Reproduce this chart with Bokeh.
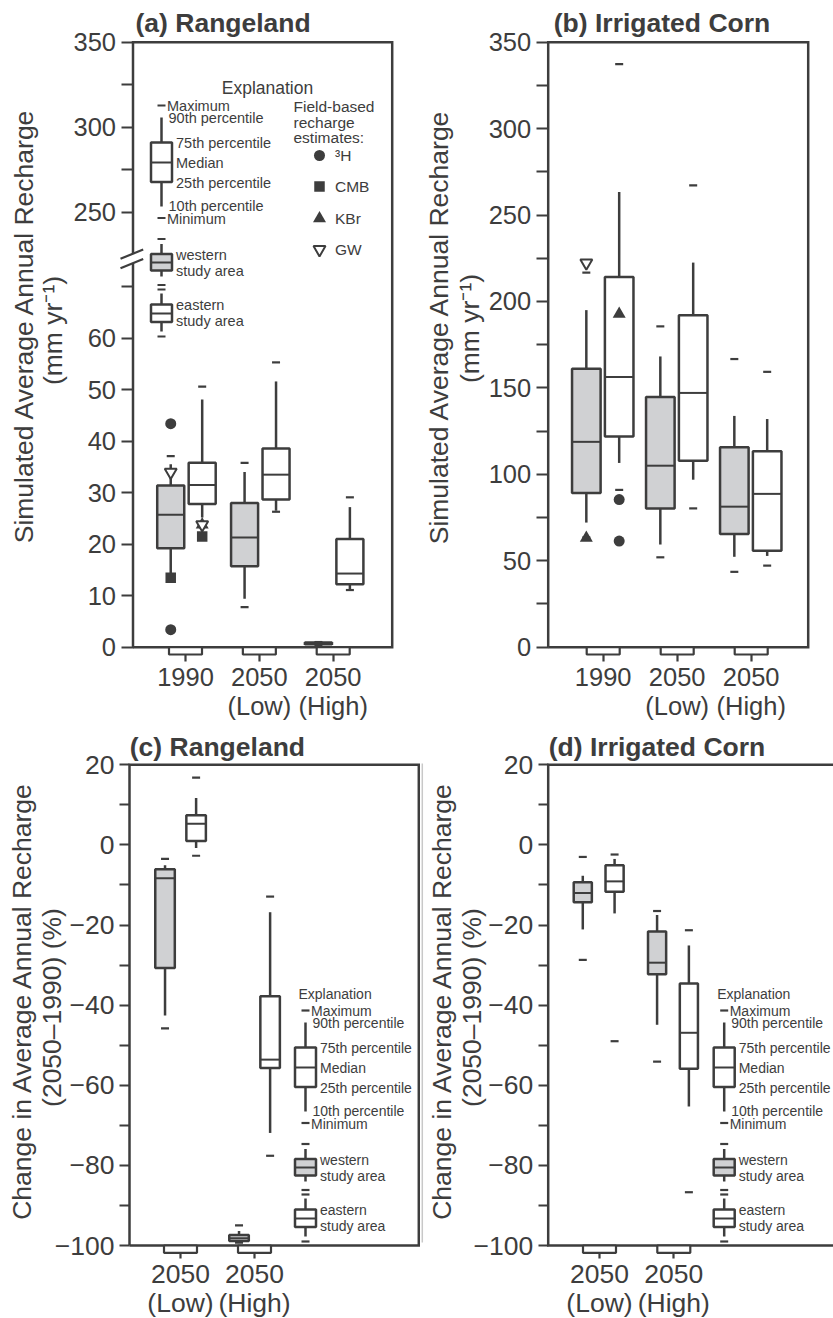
import math
from bokeh.plotting import figure
from bokeh.models import FixedTicker, Label, Arrow, PolyAnnotation, Range1d, LinearAxis
from bokeh.layouts import column, row
from bokeh.embed import file_html
from bokeh.resources import INLINE

FONT = "Liberation Sans"
INK = "#3d3d3d"
FILL_W = "#d0d1d3"

# ---------------- data ----------------
top_categories = ["1990", "2050\n(Low)", "2050\n(High)"]
bottom_categories = ["2050\n(Low)", "2050\n(High)"]

# box statistics per category: [minimum, 10th, 25th, median, 75th, 90th, maximum]
a_western = [
    [13.2, 14.0, 19.2, 25.7, 31.4, 35.5, 37.1],
    [7.8, 9.4, 15.7, 21.3, 28.0, 34.0, 35.8],
    [0.45, 0.5, 0.55, 0.7, 0.9, 0.95, 1.0],
]
a_eastern = [
    [21.5, 25.2, 27.8, 31.5, 35.8, 48.1, 50.6],
    [26.3, 26.5, 28.7, 33.5, 38.6, 51.6, 55.3],
    [11.1, 11.3, 12.2, 14.3, 21.0, 27.2, 29.1],
]
b_western = [
    [63.5, 72.1, 89.2, 118.8, 161.1, 195.0, 216.7],
    [52.0, 59.4, 80.3, 105.0, 144.8, 168.2, 185.6],
    [43.6, 52.3, 65.5, 81.3, 115.7, 133.8, 166.7],
]
b_eastern = [
    [91.0, 106.6, 121.9, 156.3, 214.1, 263.3, 337.3],
    [80.3, 96.9, 107.8, 147.1, 192.0, 222.5, 267.2],
    [47.2, 52.8, 55.8, 88.7, 113.4, 132.0, 159.3],
]
c_western = [
    [-45.8, -42.6, -30.7, -8.3, -6.1, -5.1, -3.5],
    [-99.3, -99.1, -98.9, -98.2, -97.4, -96.4, -95.0],
]
c_eastern = [
    [-2.7, -0.8, 1.0, 5.3, 7.4, 11.7, 16.8],
    [-77.6, -71.9, -55.7, -53.6, -37.8, -16.8, -12.9],
]
d_western = [
    [-28.7, -21.1, -14.3, -12.0, -9.3, -7.7, -3.0],
    [-54.1, -44.9, -32.3, -29.4, -21.6, -17.5, -16.5],
]
d_eastern = [
    [-49.0, -17.1, -11.7, -9.1, -5.1, -3.5, -2.4],
    [-86.7, -65.3, -55.9, -46.9, -34.6, -25.1, -21.3],
]

# field-based recharge estimates: (category, study area, value)
a_tritium = [("1990", "western", 43.4), ("1990", "western", 3.4)]
a_cmb = [("1990", "western", 13.5), ("1990", "eastern", 21.5)]
a_kbr = [("1990", "eastern", 23.8)]
a_gw = [("1990", "western", 34.0), ("1990", "eastern", 23.8)]
b_tritium = [("1990", "eastern", 85.4), ("1990", "eastern", 61.4)]
b_kbr = [("1990", "western", 63.2), ("1990", "eastern", 192.7)]
b_gw = [("1990", "western", 222.3)]

# axis ticks
a_ticks_lower = [0, 10, 20, 30, 40, 50, 60, 70]
a_labels_lower = ["0", "10", "20", "30", "40", "50", "60", ""]
a_ticks_upper = [250, 275, 300, 325, 350]
a_labels_upper = ["250", "", "300", "", "350"]
b_ticks = [0, 25, 50, 75, 100, 125, 150, 175, 200, 225, 250, 275, 300, 325, 350]
b_labels = ["0", "", "50", "", "100", "", "150", "", "200", "", "250", "", "300", "", "350"]
cd_ticks = [-100, -90, -80, -70, -60, -50, -40, -30, -20, -10, 0, 10, 20]
cd_labels = ["\u2212100", "", "\u221280", "", "\u221260", "", "\u221240", "", "\u221220", "", "0", "", "20"]


# panel (a) uses a broken axis: upper segment (250-350) compressed above the lower one
def a_pos(v):
    if v <= 100:
        return v
    return round(84.47 + (v - 250) * 0.330, 3)


class Panel:
    """Geometry of one figure; the frame spans the whole canvas, the drawn box is inside."""

    def __init__(self, x0, y0, W, H, tick1_px, sx, yref_px, yref_val, sy, frame_px):
        self.x0, self.y0, self.W, self.H = x0, y0, W, H
        self.t1, self.sx = tick1_px, sx
        self.ypx, self.yv, self.sy = yref_px, yref_val, sy
        l, r, t, b = frame_px
        self.fl, self.fr, self.ft, self.fb = self.X(l), self.X(r), self.Y(t), self.Y(b)

    def X(self, px):
        return 1 + (px - self.t1) / self.sx

    def Y(self, py):
        return self.yv + (self.ypx - py) / self.sy


A = Panel(0, 0, 420, 730, 185.0, 73.85, 646.7, 0.0, 605.0 / a_pos(350), (132.5, 391.7, 41.7, 646.7))
B = Panel(420, 0, 413, 730, 602.7, 74.0, 646.7, 0.0, 605.0 / 350.0, (547.7, 807.7, 41.7, 646.7))
C = Panel(0, 730, 420, 588, 180.0, 74.0, 1245.0, -100.0, 480.7 / 120.0, (129.0, 418.3, 764.3, 1245.0))
D = Panel(420, 730, 413, 588, 599.0, 74.3, 1245.0, -100.0, 480.7 / 120.0, (547.7, 840.0, 764.3, 1245.0))


def make_fig(g, yticks, ylabels, xlabels, fs, xtick_out, ytick_out, xstandoff, xlh, right=True):
    p = figure(width=g.W, height=g.H,
               x_range=Range1d(g.X(g.x0), g.X(g.x0 + g.W)),
               y_range=Range1d(g.Y(g.y0 + g.H), g.Y(g.y0)),
               output_backend="svg", toolbar_location=None, title=None,
               x_axis_location=None, y_axis_location=None,
               min_border=0, min_border_left=0, min_border_right=0,
               min_border_top=0, min_border_bottom=0)
    p.outline_line_color = None
    p.xgrid.visible = False
    p.ygrid.visible = False
    p.background_fill_color = "white"
    p.border_fill_color = "white"
    # frame box
    if right:
        p.line(x=[g.fl, g.fl, g.fr, g.fr, g.fl], y=[g.fb, g.ft, g.ft, g.fb, g.fb],
               line_color=INK, line_width=2.5, line_join="miter")
    else:
        p.line(x=[g.fr, g.fl, g.fl, g.fr], y=[g.ft, g.ft, g.fb, g.fb],
               line_color=INK, line_width=2.5, line_join="miter")
    xt = list(range(1, len(xlabels) + 1))
    yax = LinearAxis(fixed_location=g.fl, ticker=FixedTicker(ticks=yticks),
                     major_label_overrides={t: l for t, l in zip(yticks, ylabels)})
    xax = LinearAxis(fixed_location=g.fb, ticker=FixedTicker(ticks=xt),
                     major_label_overrides={t: l for t, l in zip(xt, xlabels)})
    for ax in (xax, yax):
        ax.axis_line_color = None
        ax.major_tick_line_color = INK
        ax.major_tick_line_width = 2.2
        ax.major_tick_in = 0
        ax.minor_tick_line_color = None
        ax.major_label_text_font = FONT
        ax.major_label_text_font_size = fs
        ax.major_label_text_color = INK
    yax.major_tick_out = ytick_out
    yax.major_label_standoff = 5
    xax.major_tick_out = xtick_out
    xax.major_label_standoff = xstandoff
    xax.major_label_text_line_height = xlh
    p.add_layout(yax, "left")
    p.add_layout(xax, "below")
    # open boxes hanging under the x axis at each category tick
    hw = 16.5 / g.sx
    h = 7.3 / g.sy
    for i in xt:
        p.add_layout(PolyAnnotation(xs=[i - hw, i + hw, i + hw, i - hw],
                                    ys=[g.fb, g.fb, g.fb - h, g.fb - h],
                                    fill_color="white", fill_alpha=1.0,
                                    line_color=INK, line_alpha=1.0, line_width=2.2))
    return p


def draw_boxes(p, stats, offset, half, fill, pos=lambda v: v):
    xc = [i + 1 + offset for i in range(len(stats))]
    mins = [pos(s[0]) for s in stats]
    p10 = [pos(s[1]) for s in stats]
    p25 = [pos(s[2]) for s in stats]
    med = [pos(s[3]) for s in stats]
    p75 = [pos(s[4]) for s in stats]
    p90 = [pos(s[5]) for s in stats]
    maxs = [pos(s[6]) for s in stats]
    p.segment(x0=xc, y0=p75, x1=xc, y1=p90, line_color=INK, line_width=2.5)
    p.segment(x0=xc, y0=p25, x1=xc, y1=p10, line_color=INK, line_width=2.5)
    p.quad(left=[x - half for x in xc], right=[x + half for x in xc], bottom=p25, top=p75,
           fill_color=fill, line_color=INK, line_width=2.5)
    p.segment(x0=[x - half for x in xc], y0=med, x1=[x + half for x in xc], y1=med,
              line_color=INK, line_width=2.0)
    p.scatter(x=xc + xc, y=mins + maxs, marker="dash", size=8, line_color=INK, line_width=2.2)


def draw_field(p, recs, cats, offsets, marker, size, fill, lw, pos=lambda v: v):
    xs = [cats.index(c) + 1 + offsets[a] for c, a, v in recs]
    ys = [pos(v) for c, a, v in recs]
    p.scatter(x=xs, y=ys, marker=marker, size=size, fill_color=fill,
              line_color=INK, line_width=lw)


def label(p, x, y, text, size, align="left", baseline="middle", bold=False, angle=0.0):
    p.add_layout(Label(x=x, y=y, text=text, text_font=FONT, text_font_size=size,
                       text_color=INK, text_align=align, text_baseline=baseline,
                       text_font_style="bold" if bold else "normal", angle=angle))


def draw_explanation(p, g, cx, y0, title_px, title_align, title_size, text_size):
    X, Y = g.X, g.Y
    hw = 10.5
    p.segment(x0=[X(cx), X(cx)], y0=[Y(y0 + 37), Y(y0 + 76.5)], x1=[X(cx), X(cx)],
              y1=[Y(y0 + 12), Y(y0 + 101)], line_color=INK, line_width=2.5)
    p.quad(left=[X(cx - hw)], right=[X(cx + hw)], top=[Y(y0 + 37)], bottom=[Y(y0 + 76.5)],
           fill_color="white", line_color=INK, line_width=2.5)
    p.segment(x0=[X(cx - hw)], y0=[Y(y0 + 57)], x1=[X(cx + hw)], y1=[Y(y0 + 57)],
              line_color=INK, line_width=2.0)
    p.scatter(x=[X(cx), X(cx)], y=[Y(y0), Y(y0 + 112.5)], marker="dash", size=8,
              line_color=INK, line_width=2.2)
    minis = [(133.5, 138.5, 148.5, 157.0, 165.0, 171.0, 179.5, FILL_W),
             (184.0, 188.0, 199.0, 208.0, 216.5, 226.0, 231.0, "white")]
    for mx, wt, btp, md, bbt, wb, mn, fc in minis:
        p.segment(x0=[X(cx), X(cx)], y0=[Y(y0 + btp), Y(y0 + bbt)], x1=[X(cx), X(cx)],
                  y1=[Y(y0 + wt), Y(y0 + wb)], line_color=INK, line_width=2.5)
        p.quad(left=[X(cx - hw)], right=[X(cx + hw)], top=[Y(y0 + btp)], bottom=[Y(y0 + bbt)],
               fill_color=fc, line_color=INK, line_width=2.5)
        p.segment(x0=[X(cx - hw)], y0=[Y(y0 + md)], x1=[X(cx + hw)], y1=[Y(y0 + md)],
                  line_color=INK, line_width=2.0)
        p.scatter(x=[X(cx), X(cx)], y=[Y(y0 + mx), Y(y0 + mn)], marker="dash", size=8,
                  line_color=INK, line_width=2.2)
    texts = [("Maximum", 5.5, 0), ("90th percentile", 7, 12.5), ("75th percentile", 14.5, 37),
             ("Median", 14.5, 57), ("25th percentile", 14.5, 77), ("10th percentile", 7, 100.5),
             ("Minimum", 5.5, 113), ("western", 14.5, 149), ("study area", 14.5, 165),
             ("eastern", 14.5, 199), ("study area", 14.5, 215)]
    for t, dx, dy in texts:
        label(p, X(cx + dx), Y(y0 + dy), t, text_size)
    label(p, X(title_px[0]), Y(title_px[1]), "Explanation", title_size, align=title_align)


# ================= panel (a) =================
a_yt = a_ticks_lower + [a_pos(v) for v in a_ticks_upper]
pa = make_fig(A, a_yt, a_labels_lower + a_labels_upper, top_categories, "25.5px", 14, 12, 2, 1.04)
a_off = {"western": -0.200, "eastern": 0.226}
draw_boxes(pa, a_western, a_off["western"], 0.183, FILL_W, a_pos)
draw_boxes(pa, a_eastern, a_off["eastern"], 0.183, "white", a_pos)
draw_field(pa, a_tritium, top_categories[:1], a_off, "circle", 11, INK, 0)
draw_field(pa, a_cmb, top_categories[:1], a_off, "square", 10.5, INK, 0)
draw_field(pa, a_kbr, top_categories[:1], a_off, "triangle", 13, INK, 0)
draw_field(pa, a_gw, top_categories[:1], a_off, "inverted_triangle", 12, "white", 2)
# axis break
pa.add_layout(PolyAnnotation(xs=[A.X(119), A.X(144), A.X(144), A.X(119)],
                             ys=[A.Y(258.3), A.Y(248), A.Y(257.6), A.Y(267.9)],
                             fill_color="white", fill_alpha=1.0, line_color=None))
for yy in (0.0, 9.4):
    pa.add_layout(Arrow(end=None, x_start=A.X(120), y_start=A.Y(258.3 + yy),
                        x_end=A.X(142.7), y_end=A.Y(249 + yy), line_color=INK, line_width=2.2))
draw_explanation(pa, A, 161, 105, (267, 87), "center", "17.5px", "14.5px")
label(pa, A.X(293), A.Y(106), "Field-based", "15.5px")
label(pa, A.X(293), A.Y(121.5), "recharge", "15.5px")
label(pa, A.X(293), A.Y(137), "estimates:", "15.5px")
pa.scatter(x=[A.X(319)], y=[A.Y(155)], marker="circle", size=11, fill_color=INK, line_color=INK, line_width=0)
pa.scatter(x=[A.X(319)], y=[A.Y(186)], marker="square", size=10.5, fill_color=INK, line_color=INK, line_width=0)
pa.scatter(x=[A.X(319)], y=[A.Y(218)], marker="triangle", size=13, fill_color=INK, line_color=INK, line_width=0)
pa.scatter(x=[A.X(319)], y=[A.Y(249)], marker="inverted_triangle", size=12, fill_color="white", line_color=INK, line_width=2)
for t, yy in (("\u00b3H", 155), ("CMB", 186), ("KBr", 218), ("GW", 249)):
    label(pa, A.X(334.5), A.Y(yy), t, "15.5px")
label(pa, A.X(135), A.Y(22.5), "(a) Rangeland", "26.5px", bold=True)
label(pa, A.X(23.3), A.Y(325), "Simulated Average Annual Recharge", "26.5px", align="center", angle=math.pi / 2)
label(pa, A.X(52.5), A.Y(330), "(mm yr\u207b\u00b9)", "26.5px", align="center", angle=math.pi / 2)

# ================= panel (b) =================
pb = make_fig(B, b_ticks, b_labels, top_categories, "25.5px", 14, 12, 2, 1.04)
b_off = {"western": -0.228, "eastern": 0.216}
draw_boxes(pb, b_western, b_off["western"], 0.193, FILL_W)
draw_boxes(pb, b_eastern, b_off["eastern"], 0.193, "white")
draw_field(pb, b_tritium, top_categories[:1], b_off, "circle", 11, INK, 0)
draw_field(pb, b_kbr, top_categories[:1], b_off, "triangle", 13, INK, 0)
draw_field(pb, b_gw, top_categories[:1], b_off, "inverted_triangle", 12, "white", 2)
label(pb, B.X(553.3), B.Y(22.5), "(b) Irrigated Corn", "26.5px", bold=True)
label(pb, B.X(438.3), B.Y(326), "Simulated Average Annual Recharge", "26.5px", align="center", angle=math.pi / 2)
label(pb, B.X(469), B.Y(328), "(mm yr\u207b\u00b9)", "26.5px", align="center", angle=math.pi / 2)

# ================= panel (c) =================
pc = make_fig(C, cd_ticks, cd_labels, bottom_categories, "26.5px", 13, 10, 0, 0.97)
c_off = {"western": -0.209, "eastern": 0.211}
draw_boxes(pc, c_western, c_off["western"], 0.132, FILL_W)
draw_boxes(pc, c_eastern, c_off["eastern"], 0.132, "white")
draw_explanation(pc, C, 305, 1010, (298, 993), "left", "14px", "14px")
label(pc, C.X(129.3), C.Y(746.4), "(c) Rangeland", "26.5px", bold=True)
label(pc, C.X(21.7), C.Y(1000), "Change in Average Annual Recharge", "26.5px", align="center", angle=math.pi / 2)
label(pc, C.X(51), C.Y(1007), "(2050\u20131990) (%)", "26.5px", align="center", angle=math.pi / 2)

# ================= panel (d) =================
pd_ = make_fig(D, cd_ticks, cd_labels, bottom_categories, "26.5px", 13, 10, 0, 0.97, right=False)
d_off = {"western": -0.225, "eastern": 0.203}
draw_boxes(pd_, d_western, d_off["western"], 0.122, FILL_W)
draw_boxes(pd_, d_eastern, d_off["eastern"], 0.122, "white")
draw_explanation(pd_, D, 723.7, 1010, (716.7, 993), "left", "14px", "14px")
pd_.add_layout(Arrow(end=None, x_start=D.X(421.8), y_start=D.Y(763), x_end=D.X(421.8),
                     y_end=D.Y(1242), line_color="#c8c8c8", line_width=1.5))
label(pd_, D.X(548.3), D.Y(746.4), "(d) Irrigated Corn", "26.5px", bold=True)
label(pd_, D.X(441.7), D.Y(1000), "Change in Average Annual Recharge", "26.5px", align="center", angle=math.pi / 2)
label(pd_, D.X(471), D.Y(1007), "(2050\u20131990) (%)", "26.5px", align="center", angle=math.pi / 2)

layout = column(row(pa, pb), row(pc, pd_))
open("out.html", "w").write(file_html(layout, INLINE))
